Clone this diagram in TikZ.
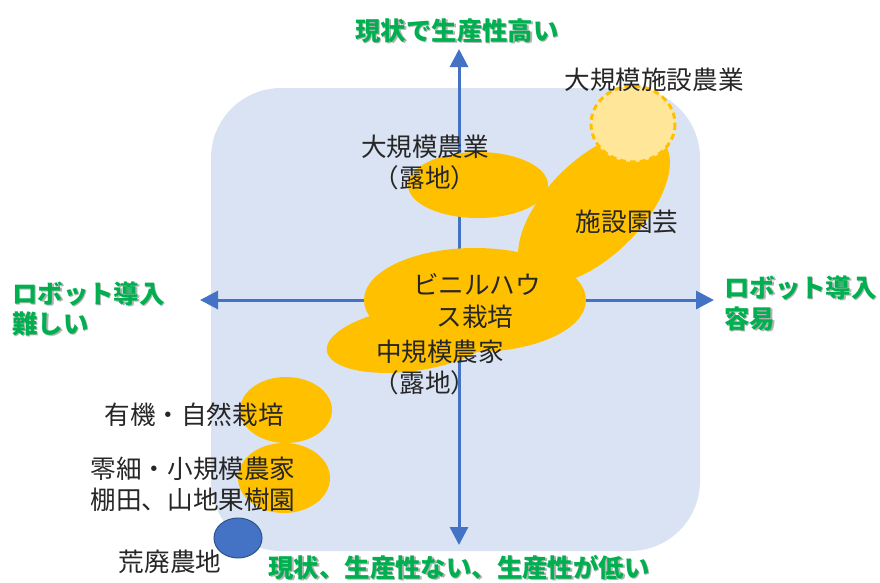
\documentclass[tikz,border=0pt]{standalone}
\usepackage{fontspec}
\newfontfamily\jp{Noto Sans CJK JP}
\usetikzlibrary{arrows.meta,shapes.geometric}
\definecolor{bg}{HTML}{DAE3F3}
\definecolor{ax}{HTML}{4472C4}
\definecolor{gold}{HTML}{FFC000}
\definecolor{lgold}{HTML}{FFE699}
\definecolor{grn}{HTML}{00B050}
\definecolor{dblue}{HTML}{2F528F}
\begin{document}
\begin{tikzpicture}[x=1pt,y=-1pt,
  lbl/.style={font=\jp\fontsize{25.6}{30}\selectfont, text=black!85, inner sep=0pt, text height=22.5pt, text depth=3pt},
  glbl/.style={font=\jp\bfseries\fontsize{25.4}{30}\selectfont, text=grn, inner sep=0pt, text height=22pt, text depth=2pt},
  shd/.style={font=\jp\bfseries\fontsize{25.4}{30}\selectfont, text=black!30, inner sep=0pt, text height=22pt, text depth=2pt},
  blob/.style={fill=gold},
  axisline/.style={draw=ax, line width=3pt, {Triangle[width=18pt,length=18pt]}-{Triangle[width=18pt,length=18pt]}}
]
\useasboundingbox (0,0) rectangle (880,582);
% background panel
\fill[bg, rounded corners=70pt] (211,88) rectangle (700,551);
% axes
\coordinate (top) at (459,49);
\coordinate (bot) at (459,545);
\coordinate (lft) at (200,300);
\coordinate (rgt) at (714,300);
\draw[axisline] (bot) -- (top);
\draw[axisline] (lft) -- (rgt);
% blobs
\fill[blob] (478,185) ellipse [x radius=70, y radius=33];
\fill[blob, rotate around={45:(594,208)}] (594,208) ellipse [x radius=96, y radius=48];
\fill[blob] (475,300) ellipse [x radius=111, y radius=52];
\fill[blob, rotate around={8:(412,339)}] (412,339) ellipse [x radius=86, y radius=32];
\fill[blob] (286,410) ellipse [x radius=46, y radius=33];
\fill[blob] (284,478) ellipse [x radius=46, y radius=35];
\filldraw[fill=lgold, draw=gold, line width=3pt, dash pattern=on 6pt off 4pt] (633,124) ellipse [x radius=42, y radius=38];
\filldraw[fill=ax, draw=dblue, line width=1pt] (238,538) ellipse [x radius=24, y radius=20];
% black labels
\node[lbl] (t1) at (654,80) {大規模施設農業};
\node[lbl] (t2) at (425,147) {大規模農業};
\node[lbl] (t3) at (425,178) {（露地）};
\node[lbl] (t4) at (627,222) {施設園芸};
\node[lbl] (t5) at (477,285) {ビニルハウ};
\node[lbl] (t6) at (475,317) {ス栽培};
\node[lbl] (t7) at (440,352) {中規模農家};
\node[lbl] (t8) at (425,383) {（露地）};
\node[lbl] (t9) at (194,415) {有機・自然栽培};
\node[lbl] (t10) at (193,469) {零細・小規模農家};
\node[lbl] (t11) at (193,500) {棚田、山地果樹園};
\node[lbl] (t12) at (170,562) {荒廃農地};
% green labels with shadow
\node[shd] (s1) at (458.5,31.5) {現状で生産性高い};
\node[glbl] (g1) at (457,30) {現状で生産性高い};
\node[shd] (s2) at (460.5,568.5) {現状、生産性ない、生産性が低い};
\node[glbl] (g2) at (459,567) {現状、生産性ない、生産性が低い};
\node[shd, anchor=west] (s3) at (13.5,294.5) {ロボット導入};
\node[glbl, anchor=west] (g3) at (12,293) {ロボット導入};
\node[shd, anchor=west] (s4) at (13.5,324.5) {難しい};
\node[glbl, anchor=west] (g4) at (12,323) {難しい};
\node[shd, anchor=west] (s5) at (725.5,288.5) {ロボット導入};
\node[glbl, anchor=west] (g5) at (724,287) {ロボット導入};
\node[shd, anchor=west] (s6) at (725.5,319.5) {容易};
\node[glbl, anchor=west] (g6) at (724,318) {容易};
\end{tikzpicture}
\end{document}
